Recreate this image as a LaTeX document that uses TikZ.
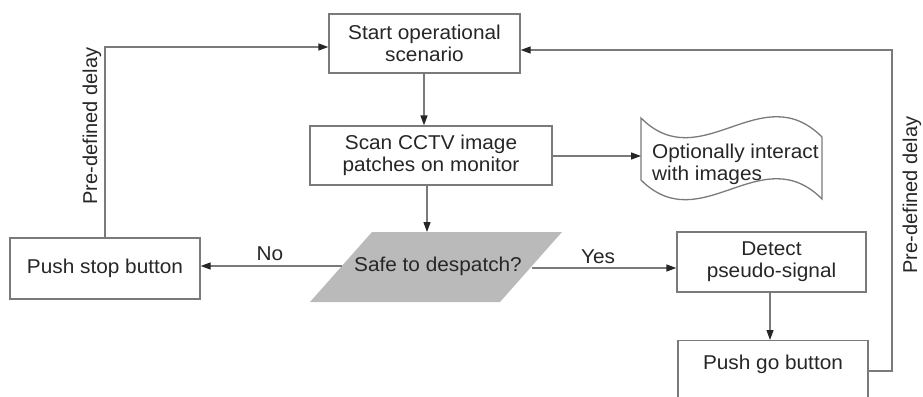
\documentclass[tikz,border=0pt]{standalone}
\usepackage{fontspec}
\setmainfont{Liberation Sans}[FakeStretch=1.04]
\newfontfamily\vertfont{Liberation Sans}
\usetikzlibrary{arrows.meta}
\definecolor{lncol}{HTML}{7A7A7A}
\definecolor{txtcol}{HTML}{262626}
\definecolor{fillgray}{HTML}{BABABA}
\begin{document}
\begin{tikzpicture}[x=1pt,y=-1pt,
  every node/.style={font=\fontsize{20}{22}\selectfont, text=txtcol, inner sep=0pt},
  box/.style={draw=lncol, line width=1.3pt, align=center},
  conn/.style={draw=lncol, line width=1.3pt},
  arr/.style={conn, -{Triangle[length=10pt,width=7pt,color=txtcol]}},
  vlabel/.style={rotate=90, anchor=base, font=\vertfont\fontsize{20}{22}\selectfont},
]
\useasboundingbox (0,0) rectangle (923,396);
\clip (0,0) rectangle (923,396);

% boxes
\node[box, minimum width=191, minimum height=59] (start) at (424.5,43.5) {Start operational\\scenario};
\node[box, minimum width=242, minimum height=59] (scan) at (431,155.5) {Scan CCTV image\\patches on monitor};
\node[box, minimum width=190, minimum height=61] (stop) at (105,268.5) {Push stop button};
\node[box, minimum width=189, minimum height=60] (detect) at (771.5,262) {Detect\\pseudo-signal};
\node[box, minimum width=190, minimum height=62, anchor=north] (gobox) at (773,340) {};
\node (golabel) at (773,364) {Push go button};

% parallelogram decision
\fill[fillgray] (310,302) -- (372,232) -- (562,232) -- (500,302) -- cycle;
\node (safe) at (438,266) {Safe to despatch?};

% document shape
\draw[conn] (641,118) .. controls (701,178) and (761,76) .. (822,137)
  -- (822,199) .. controls (761,138) and (701,240) .. (641,180) -- cycle;
\node[align=left, anchor=west] (opt) at (652,164) {Optionally interact\\with images};

% coordinates
\coordinate (lc) at (105,47);
\coordinate (rc) at (892,50);
\coordinate (gy) at (0,371);
\coordinate (docw) at (641,156);
\coordinate (ptop) at (427,232);
\coordinate (pl) at (342,266);
\coordinate (pr) at (532,268);
\coordinate (sx) at (424,0);
\coordinate (gx) at (770,0);

% connectors
\draw[arr] (stop.north -| lc) -- (lc) -- (start.west |- lc);
\draw[arr] (gobox.east |- gy) -| (rc) -- (start.east |- rc);
\draw[arr] (start.south -| sx) -- (scan.north -| sx);
\draw[arr] (scan.east |- docw) -- (docw);
\draw[arr] (scan.south -| ptop) -- (ptop);
\draw[arr] (pl) -- (stop.east |- pl);
\draw[arr] (pr) -- (detect.west |- pr);
\draw[arr] (detect.south -| gx) -- (gobox.north -| gx);

% labels
\node[anchor=base] (no) at (270,260) {No};
\node[anchor=base] (yes) at (598,263) {Yes};
\node[vlabel] (dl) at (97,126) {Pre-defined delay};
\node[vlabel] (dr) at (917,195) {Pre-defined delay};
\end{tikzpicture}
\end{document}
